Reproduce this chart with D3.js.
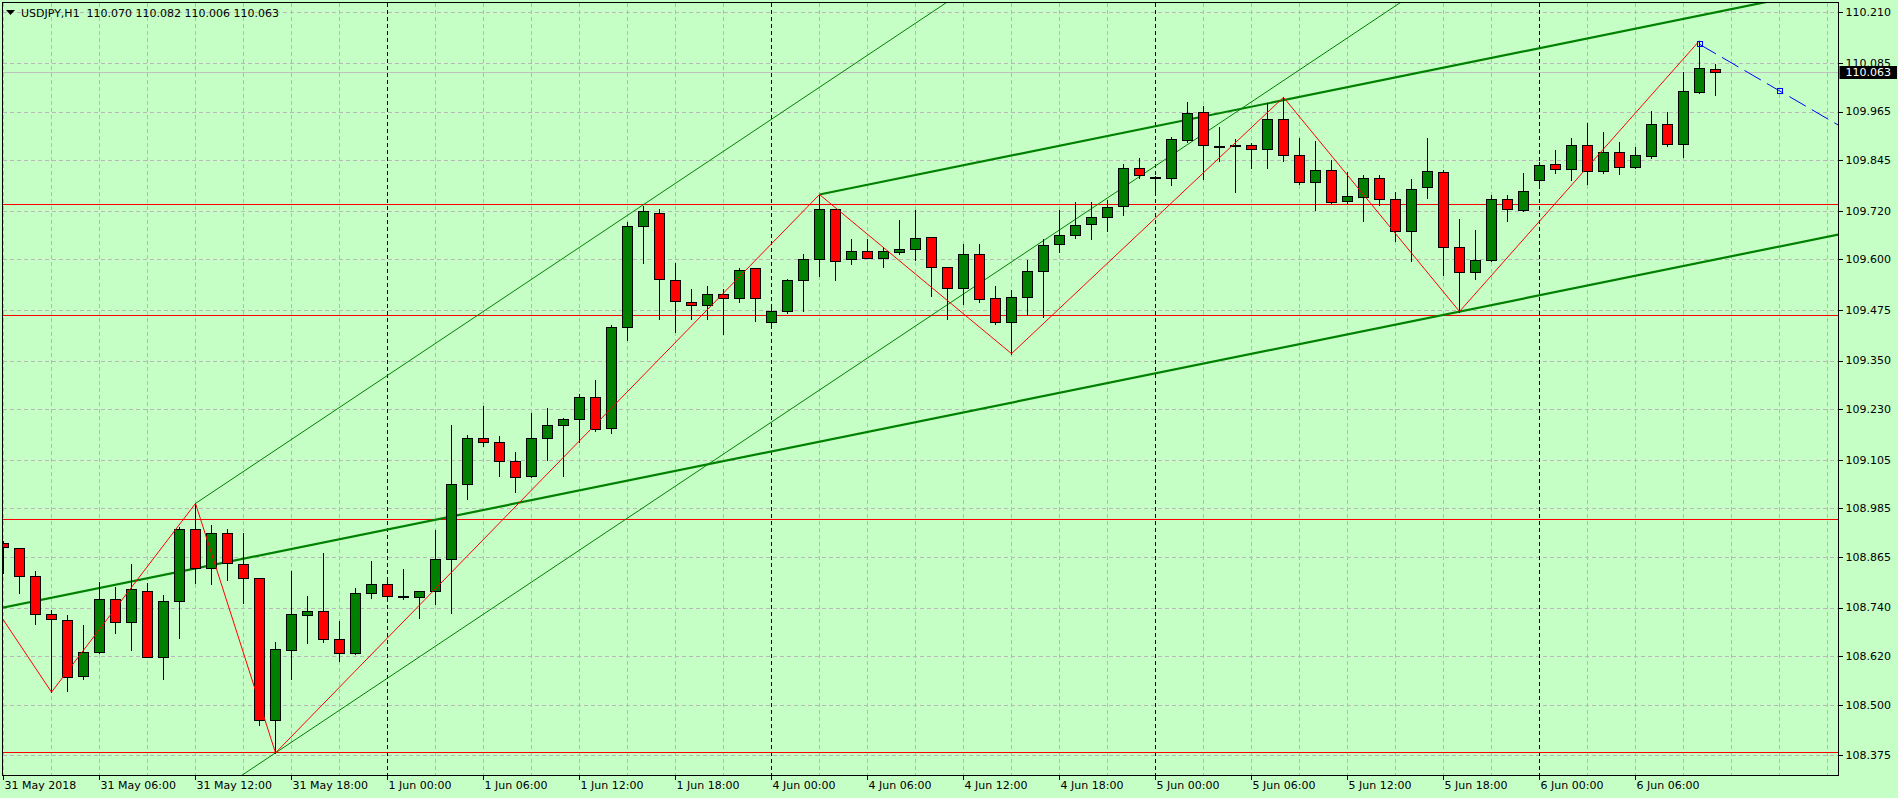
<!DOCTYPE html>
<html><head><meta charset="utf-8">
<script src="https://cdnjs.cloudflare.com/ajax/libs/d3/7.8.5/d3.min.js"></script>
<style>html,body{margin:0;padding:0;background:#c6ffc6;overflow:hidden}</style>
</head><body>
<script>
// ---------------- DATA ----------------
const symbol = "USDJPY,H1";
const headerValues = ["110.070", "110.082", "110.006", "110.063"];
const lastPrice = 110.063;

const open = [108.900,108.886,108.819,108.723,108.708,108.570,108.629,108.760,108.703,108.782,108.619,108.755,108.933,108.837,108.923,108.847,108.812,108.462,108.634,108.721,108.731,108.661,108.627,108.777,
108.797,108.769,108.767,108.782,108.859,109.044,109.158,109.148,109.101,109.064,109.158,109.190,109.205,109.259,109.183,109.432,109.681,109.714,109.549,109.494,109.486,109.514,109.504,109.578,
109.444,109.472,109.548,109.600,109.723,109.600,109.620,109.604,109.617,109.625,109.654,109.580,109.528,109.612,109.504,109.446,109.506,109.570,109.637,109.659,109.686,109.704,109.731,109.825,
109.804,109.802,109.895,109.963,109.881,109.882,109.882,109.872,109.946,109.857,109.790,109.820,109.743,109.753,109.802,109.748,109.669,109.778,109.815,109.630,109.569,109.598,109.750,109.722,
109.795,109.835,109.824,109.882,109.819,109.864,109.827,109.856,109.933,109.884,110.014,110.070];
const high = [108.904,108.888,108.830,108.734,108.721,108.697,108.803,108.791,108.847,108.800,108.771,108.938,108.997,108.943,108.933,108.925,108.814,108.654,108.830,108.768,108.875,108.707,108.788,108.855,
108.816,108.835,108.780,108.931,109.191,109.166,109.238,109.163,109.124,109.220,109.233,109.208,109.267,109.302,109.438,109.691,109.732,109.724,109.592,109.527,109.534,109.527,109.578,109.578,
109.479,109.551,109.613,109.760,109.723,109.649,109.649,109.630,109.696,109.721,109.654,109.580,109.638,109.637,109.534,109.523,109.598,109.649,109.721,109.741,109.741,109.746,109.835,109.849,
109.805,109.901,109.988,109.979,109.926,109.896,109.886,109.985,110.000,109.899,109.891,109.845,109.816,109.807,109.807,109.765,109.798,109.899,109.820,109.699,109.672,109.759,109.758,109.812,
109.840,109.870,109.899,109.936,109.914,109.890,109.877,109.966,109.964,110.062,110.140,110.082];
const low = [108.824,108.776,108.700,108.531,108.534,108.564,108.627,108.678,108.636,108.618,108.564,108.665,108.801,108.799,108.809,108.750,108.450,108.381,108.564,108.653,108.655,108.609,108.626,108.764,
108.766,108.760,108.715,108.749,108.726,109.009,109.140,109.065,109.026,109.063,109.105,109.064,109.148,109.175,109.170,109.401,109.592,109.453,109.420,109.453,109.453,109.416,109.494,109.448,
109.430,109.468,109.473,109.559,109.550,109.588,109.603,109.582,109.612,109.599,109.510,109.453,109.490,109.495,109.441,109.367,109.463,109.457,109.617,109.652,109.649,109.669,109.709,109.802,
109.767,109.784,109.890,109.799,109.843,109.767,109.826,109.826,109.843,109.786,109.722,109.740,109.738,109.695,109.733,109.646,109.597,109.752,109.562,109.471,109.552,109.597,109.695,109.720,
109.780,109.814,109.797,109.787,109.814,109.811,109.826,109.851,109.881,109.853,110.011,110.006];
const close = [108.889,108.818,108.723,108.711,108.568,108.629,108.760,108.703,108.785,108.619,108.755,108.933,108.837,108.923,108.851,108.812,108.462,108.637,108.723,108.731,108.661,108.627,108.777,108.797,
108.768,108.769,108.780,108.860,109.045,109.158,109.148,109.101,109.062,109.158,109.190,109.205,109.259,109.180,109.433,109.682,109.719,109.551,109.496,109.486,109.514,109.504,109.573,109.504,
109.472,109.548,109.600,109.723,109.596,109.620,109.604,109.620,109.625,109.652,109.580,109.528,109.612,109.501,109.446,109.506,109.570,109.635,109.659,109.684,109.704,109.728,109.825,109.807,
109.804,109.896,109.961,109.882,109.881,109.882,109.872,109.946,109.857,109.790,109.820,109.742,109.756,109.802,109.748,109.669,109.773,109.817,109.630,109.569,109.598,109.750,109.723,109.768,
109.832,109.824,109.882,109.819,109.864,109.827,109.857,109.933,109.884,110.015,110.072,110.063];

const timeLabelBars = [0,6,12,18,24,30,36,42,48,54,60,66,72,78,84,90,96,102];
const timeLabels = ["31 May 2018","31 May 06:00","31 May 12:00","31 May 18:00","1 Jun 00:00","1 Jun 06:00","1 Jun 12:00","1 Jun 18:00",
  "4 Jun 00:00","4 Jun 06:00","4 Jun 12:00","4 Jun 18:00","5 Jun 00:00","5 Jun 06:00","5 Jun 12:00","5 Jun 18:00","6 Jun 00:00","6 Jun 06:00"];
const daySeparatorBars = [24,48,72,96];
const priceTicks = ["110.210","110.085","109.965","109.845","109.720","109.600","109.475","109.350","109.230","109.105","108.985","108.865","108.740","108.620","108.500","108.375"];

const levelPrices = [109.736, 109.462, 108.958, 108.382];
const zigzagBars = [-1, 3, 12, 17, 51, 63, 80, 91, 106];
const zigzagPrices = [108.768, 108.531, 108.997, 108.381, 109.760, 109.367, 110.000, 109.471, 110.140];
const projectionBars = [106, 111];
const projectionPrices = [110.131, 110.016];
// trend lines: [bar1, price1, bar2, price2]
const channelUpper = [51, 109.760, 80, 109.993];
const channelLowerAnchor = [91, 109.471];
const pitchUpper = [12, 108.997, 40, 109.735];
const pitchLowerAnchor = [17, 108.381];

// ---------------- LAYOUT ----------------
const W = 1898, H = 798;
const L = 2.5, R = 1838.5, T = 2.5, B = 775.5;
const BG = "#c6ffc6", GRID = "#b8b8b8", BULL = "#008000", BEAR = "#ff0000";
const FONT = "DejaVu Sans";

const svg = d3.select("body").append("svg").attr("width", W).attr("height", H)
  .style("display","block").style("font-family", FONT).style("font-size","11px");
svg.append("rect").attr("width", W).attr("height", H).attr("fill", BG);

const x = d3.scaleLinear().domain([0, 107]).range([3.5, 3.5 + 16*107]);
const y = d3.scaleLinear().domain([108.375, 110.210]).range([755.3, 12.3]);
const px = v => Math.floor(x(v)) + 0.5;
const py = v => Math.round(y(v)) + 0.5;

svg.append("clipPath").attr("id","clip").append("rect")
  .attr("x", L+0.5).attr("y", T+0.5).attr("width", R-L-1).attr("height", B-T-1);
const g = svg.append("g").attr("clip-path","url(#clip)");

// grid
const hGridVals = priceTicks.map(Number);
g.append("g").selectAll("line").data(hGridVals).join("line")
  .attr("x1", L).attr("x2", R).attr("y1", d=>py(d)).attr("y2", d=>py(d))
  .attr("stroke", GRID).attr("stroke-dasharray","4,3").attr("shape-rendering","crispEdges");
const vGridBars = d3.range(0, 116, 3);
g.append("g").selectAll("line").data(vGridBars).join("line")
  .attr("x1", d=>px(d)).attr("x2", d=>px(d)).attr("y1", T).attr("y2", B)
  .attr("stroke", GRID).attr("stroke-dasharray","4,3").attr("shape-rendering","crispEdges");

// day separators
g.append("g").selectAll("line").data(daySeparatorBars).join("line")
  .attr("x1", d=>px(d)).attr("x2", d=>px(d)).attr("y1", T).attr("y2", B)
  .attr("stroke", "#000").attr("stroke-dasharray","4,3").attr("shape-rendering","crispEdges");

// bid line
g.append("line").attr("x1", L).attr("x2", R).attr("y1", py(lastPrice)).attr("y2", py(lastPrice))
  .attr("stroke", "#c0c0c0").attr("shape-rendering","crispEdges");

// horizontal levels
g.append("g").selectAll("line").data(levelPrices).join("line")
  .attr("x1", L).attr("x2", R).attr("y1", d=>py(d)).attr("y2", d=>py(d))
  .attr("stroke", "#ff0000").attr("shape-rendering","crispEdges");

// helper for rays
function ray(b1, p1, b2, p2, both) {
  const s = (p2 - p1) / (b2 - b1);
  const bStart = both ? -5 : b1, bEnd = 125;
  return [[x(bStart), y(p1 + (bStart - b1)*s)], [x(bEnd), y(p1 + (bEnd - b1)*s)]];
}
const line = d3.line();
const slopeC = (channelUpper[3]-channelUpper[1])/(channelUpper[2]-channelUpper[0]);
const slopeP = (pitchUpper[3]-pitchUpper[1])/(pitchUpper[2]-pitchUpper[0]);
// thin pitch lines
g.append("path").attr("d", line(ray(...pitchUpper, false))).attr("fill","none").attr("stroke","#008000").attr("stroke-width",1);
g.append("path").attr("d", line(ray(pitchLowerAnchor[0], pitchLowerAnchor[1], pitchLowerAnchor[0]+1, pitchLowerAnchor[1]+slopeP, true)))
  .attr("fill","none").attr("stroke","#008000").attr("stroke-width",1);
// channel thick lines
g.append("path").attr("d", line(ray(...channelUpper, false))).attr("fill","none").attr("stroke","#008000").attr("stroke-width",2.2);
g.append("path").attr("d", line(ray(channelLowerAnchor[0], channelLowerAnchor[1], channelLowerAnchor[0]+1, channelLowerAnchor[1]+slopeC, true)))
  .attr("fill","none").attr("stroke","#008000").attr("stroke-width",2.2);

// candles
const bars = open.map((o,i)=>({i, o, h: high[i], l: low[i], c: close[i]}));
const cg = g.append("g");
cg.selectAll("line").data(bars).join("line")
  .attr("x1", d=>px(d.i)).attr("x2", d=>px(d.i))
  .attr("y1", d=>Math.round(y(d.h))).attr("y2", d=>Math.round(y(d.l))+1)
  .attr("stroke","#000").attr("stroke-width",1);
cg.selectAll("rect").data(bars).join("rect")
  .attr("x", d=>px(d.i)-5).attr("width", 10)
  .attr("y", d=>Math.round(y(Math.max(d.o,d.c)))+0.5)
  .attr("height", d=>Math.max(1, Math.round(y(Math.min(d.o,d.c))) - Math.round(y(Math.max(d.o,d.c)))))
  .attr("fill", d=> d.c > d.o ? BULL : (d.c < d.o ? BEAR : "#000"))
  .attr("stroke","#000").attr("stroke-width",1);

// zigzag
g.append("path").attr("d", line(zigzagBars.map((b,k)=>[x(b), y(zigzagPrices[k])])))
  .attr("fill","none").attr("stroke","#ff0000").attr("stroke-width",1);

// projection
const pr = ray(projectionBars[0], projectionPrices[0], projectionBars[1], projectionPrices[1], false);
g.append("path").attr("d", line(pr)).attr("fill","none").attr("stroke","#0000ff")
  .attr("stroke-width",1).attr("stroke-dasharray","19,7");
g.append("g").selectAll("rect").data(projectionBars).join("rect")
  .attr("x", (d)=>Math.round(x(d))-2.5).attr("y",(d,k)=>Math.round(y(projectionPrices[k]))-2.5)
  .attr("width",5).attr("height",5).attr("fill","none").attr("stroke","#0000ff");

// frame
svg.append("rect").attr("x", L).attr("y", T).attr("width", R-L).attr("height", B-T)
  .attr("fill","none").attr("stroke","#000").attr("shape-rendering","crispEdges");

// y axis labels
const ya = svg.append("g");
ya.selectAll("line").data(hGridVals).join("line")
  .attr("x1", R).attr("x2", R+4).attr("y1", d=>py(d)).attr("y2", d=>py(d)).attr("stroke","#000").attr("shape-rendering","crispEdges");
ya.selectAll("text").data(priceTicks).join("text")
  .attr("x", R+7).attr("y", d=>y(+d)).attr("dy","0.36em").attr("fill","#000").text(d=>d);

// last price box
svg.append("rect").attr("x", R+1).attr("y", Math.round(y(lastPrice))-6).attr("width", W-R-2).attr("height", 13).attr("fill","#000");
svg.append("text").attr("x", R+7).attr("y", y(lastPrice)).attr("dy","0.36em").attr("fill","#fff").text(lastPrice.toFixed(3));

// x axis labels
const xa = svg.append("g");
xa.selectAll("line").data(timeLabelBars).join("line")
  .attr("x1", d=>px(d)).attr("x2", d=>px(d)).attr("y1", B).attr("y2", B+4).attr("stroke","#000").attr("shape-rendering","crispEdges");
xa.selectAll("text").data(timeLabels).join("text")
  .attr("x", (d,k)=>px(timeLabelBars[k])+1).attr("y", 789).attr("fill","#000").text(d=>d);

// header
svg.append("path").attr("d","M6,10 L15,10 L10.5,15 Z").attr("fill","#000");
svg.append("text").attr("x", 21).attr("y", 17).attr("fill","#000")
  .text(symbol + "  " + headerValues.join(" ")).attr("xml:space","preserve").style("white-space","pre");
</script>
</body></html>
